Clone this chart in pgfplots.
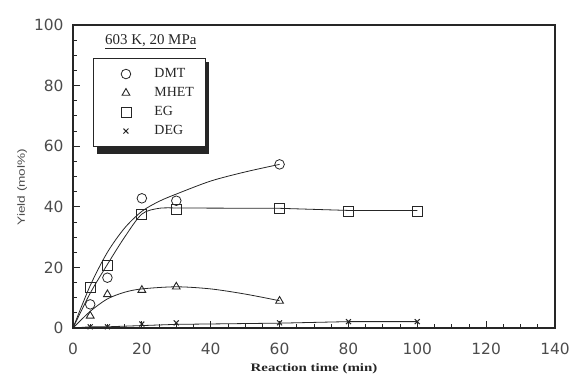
\documentclass[border=0pt]{standalone}
\usepackage{fontspec}
\setmainfont{Liberation Serif}
\newfontfamily\tickfont{DejaVu Sans}
\newfontfamily\labelfont{Liberation Sans}
\usepackage{pgfplots}
\pgfplotsset{compat=1.18}
\begin{document}
\begin{tikzpicture}
\useasboundingbox (0,0) rectangle (572bp,381bp);
\begin{axis}[
 at={(73bp,53bp)}, anchor=south west,
 scale only axis, width=482bp, height=303bp,
 xmin=0, xmax=140, ymin=0, ymax=100,
 xtick={0,20,...,140}, ytick={0,20,...,100},
 minor x tick num=3, minor y tick num=3,
 tick align=inside, xtick pos=left, ytick pos=left,
 major tick length=7bp, minor tick length=4bp,
 axis line style={line width=1.1bp, black!85},
 every tick/.style={line width=0.8bp, black!85},
 /pgf/number format/assume math mode=true,
 tick label style={font=\tickfont\fontsize{15.5}{15.5}\selectfont, text=black!70},
 xticklabel style={yshift=-12bp},
 yticklabel style={xshift=-6bp},
 xlabel={\scalebox{1.3}[1]{\bfseries\fontsize{11.5}{12}\selectfont Reaction time (min)}},
 ylabel={\scalebox{1.3}[1]{\labelfont\fontsize{10.5}{11}\selectfont Yield (mol\%)}},
 xlabel style={yshift=-2bp, text=black!85},
 ylabel style={at={(ticklabel cs:0.465)}, yshift=0bp, text=black!70},
 legend image code/.code={\draw[#1] plot coordinates {(0bp,0bp)}; \path (-22bp,0bp) (26bp,0bp);},
 legend cell align=left,
 legend style={at={(axis cs:5.8,89.1)}, anchor=north west,
   draw=black!85, line width=1bp, fill=white,
   font=\fontsize{14}{14}\selectfont, text=black!85,
   inner xsep=10bp, inner ysep=7bp, row sep=2bp, column sep=0bp,
   nodes={inner sep=2bp, text height=10bp, text depth=3bp}},
]
% shadow behind the legend box
\fill[black!85] (axis cs:7,87.8) rectangle (axis cs:39.6,57.4);
% fitted curves
\addplot[black!85, line width=0.8bp, smooth, forget plot] coordinates {
 (0,0) (5,14) (10,25) (15,33) (20,38.5) (25,41.8) (30,44.2) (40,48.5) (50,51.5) (60,54)};
\addplot[black!85, line width=0.8bp, smooth, forget plot] coordinates {
 (0,0) (5,11.5) (10,21) (15,30) (20,37.6) (25,39.5) (30,39.6)};
\addplot[black!85, line width=0.8bp, forget plot] coordinates {
 (30,39.6) (60,39.5) (80,38.8) (100,38.8)};
\addplot[black!85, line width=0.8bp, smooth, forget plot] coordinates {
 (0,0) (5,5.5) (10,9.6) (15,11.8) (20,12.9) (30,13.6) (40,12.9) (50,11.2) (60,9)};
\addplot[black!85, line width=0.8bp, forget plot] coordinates {
 (0,0) (5,0.4) (10,0.4) (20,0.8) (30,1.2) (60,1.6) (80,2.1) (100,2.1)};
% data points
\addplot[only marks, mark=o, mark size=4.8bp, black!85, line width=0.8bp, mark options={fill=white}] coordinates {
 (5,7.8) (10,16.6) (20,42.8) (30,42) (60,54)};
\addlegendentry{DMT}
\addplot[only marks, mark=triangle, mark size=4.5bp, black!85, line width=0.9bp, mark options={fill=white}] coordinates {
 (5,4) (10,11.1) (20,12.5) (30,13.6) (60,8.9)};
\addlegendentry{MHET}
\addplot[only marks, mark=square, mark size=5bp, black!85, line width=0.8bp, mark options={fill=white}] coordinates {
 (5,13.3) (10,20.8) (20,37.6) (30,39.2) (60,39.5) (80,38.6) (100,38.6)};
\addlegendentry{EG}
\addplot[only marks, mark=x, mark size=3.5bp, black!85, line width=1bp] coordinates {
 (5,0.4) (10,0.4) (20,1.3) (30,1.7) (60,1.7) (80,2.1) (100,2.1)};
\addlegendentry{DEG}
\node[font=\fontsize{15}{15}\selectfont, text=black!85] at (axis cs:22.6,94.5) {\underline{603 K, 20 MPa}};
\end{axis}
\end{tikzpicture}
\end{document}
